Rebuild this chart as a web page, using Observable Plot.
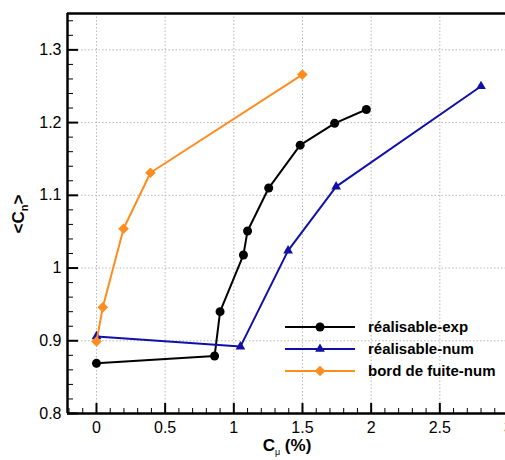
<!DOCTYPE html>
<html><head><meta charset="utf-8">
<script src="https://cdn.jsdelivr.net/npm/d3@7"></script>
<script src="https://cdn.jsdelivr.net/npm/@observablehq/plot@0.6"></script>
<style>
html,body{margin:0;padding:0;overflow:hidden;background:#fff;}
#wrap{position:relative;width:505px;height:460px;overflow:hidden;}
#wrap svg{max-width:none !important;}
</style></head><body><div id="wrap"></div>
<script>
// ---- data ----
const seriesNames = ["réalisable-exp", "réalisable-num", "bord de fuite-num"];
const seriesColors = ["#000000", "#1010a8", "#ff8c1f"];
const expCmu = [0, 0.86, 0.90, 1.07, 1.10, 1.254, 1.483, 1.734, 1.965];
const expCn  = [0.869, 0.879, 0.940, 1.018, 1.051, 1.110, 1.169, 1.199, 1.218];
const numCmu = [0, 1.048, 1.395, 1.745, 2.80];
const numCn  = [0.906, 0.892, 1.024, 1.112, 1.250];
const bfCmu  = [0, 0.046, 0.197, 0.393, 1.499];
const bfCn   = [0.899, 0.946, 1.054, 1.131, 1.266];
const xTicks = [0, 0.5, 1, 1.5, 2, 2.5, 3];
const xTickLabels = ["0", "0.5", "1", "1.5", "2", "2.5", "3"];
const yTicks = [0.8, 0.9, 1, 1.1, 1.2, 1.3];
const yTickLabels = ["0.8", "0.9", "1", "1.1", "1.2", "1.3"];

// ---- layout ----
const W = 510, H = 460;
const mL = 67, mR = 2, mT = 13, mB = 47;
const innerW = W - mL - mR, innerH = H - mT - mB;
const xDomain = [-0.211, 3.0], yDomain = [0.8, 1.35];
const font = "'Liberation Sans', Arial, Helvetica, sans-serif";

const exp = expCmu.map((x, i) => ({x, y: expCn[i]}));
const num = numCmu.map((x, i) => ({x, y: numCn[i]}));
const bf  = bfCmu.map((x, i) => ({x, y: bfCn[i]}));

const xMinor = d3.range(-2, 31).map(i => i / 10).filter(v => v >= xDomain[0] && v <= xDomain[1] && Math.abs(v * 2 - Math.round(v * 2)) > 1e-6);
const yMinor = d3.range(40, 68).map(i => i / 50).filter(v => Math.abs(v * 10 - Math.round(v * 10)) > 1e-6);

const gridStyle = {stroke: "#b8b8b8", strokeOpacity: 1, strokeWidth: 1, strokeDasharray: "1.5,2"};

const plot = Plot.plot({
  width: W, height: H,
  marginLeft: mL, marginRight: mR, marginTop: mT, marginBottom: mB,
  style: {fontFamily: font, fontSize: "16px", color: "#000", background: "#fff", overflow: "visible", maxWidth: "none"},
  x: {domain: xDomain},
  y: {domain: yDomain},
  marks: [
    Plot.gridX(xTicks.filter(v => v >= 0 && v < xDomain[1]), gridStyle),
    Plot.gridY(yTicks.filter(v => v > yDomain[0]), gridStyle),
    // tick marks pointing inward
    Plot.tickX(xMinor, {x: d => d, insetTop: innerH - 5, stroke: "#000", strokeWidth: 1}),
    Plot.tickX(xTicks, {x: d => d, insetTop: innerH - 10, stroke: "#000", strokeWidth: 2}),
    Plot.tickY(yMinor, {y: d => d, insetRight: innerW - 6, stroke: "#000", strokeWidth: 1}),
    Plot.tickY(yTicks, {y: d => d, insetRight: innerW - 11, stroke: "#000", strokeWidth: 2}),
    // frame
    Plot.ruleX([xDomain[0]], {stroke: "#000", strokeWidth: 2.5}),
    Plot.ruleY([yDomain[0], yDomain[1]], {stroke: "#000", strokeWidth: 2.5}),
    Plot.axisX(xTicks, {tickSize: 0, tickPadding: 8, label: null, fontSize: 16,
      tickFormat: d => xTickLabels[xTicks.indexOf(d)]}),
    Plot.axisY(yTicks, {tickSize: 0, tickPadding: 6, label: null, fontSize: 16,
      tickFormat: d => yTickLabels[yTicks.indexOf(d)]}),
    // series
    Plot.line(exp, {x: "x", y: "y", stroke: seriesColors[0], strokeWidth: 2}),
    Plot.dot(exp, {x: "x", y: "y", r: 4.5, fill: seriesColors[0], stroke: "none", symbol: "circle"}),
    Plot.line(num, {x: "x", y: "y", stroke: seriesColors[1], strokeWidth: 2}),
    Plot.dot(num, {x: "x", y: "y", r: 3.6, fill: seriesColors[1], stroke: "none", symbol: "triangle"}),
    Plot.line(bf, {x: "x", y: "y", stroke: seriesColors[2], strokeWidth: 2}),
    Plot.dot(bf, {x: "x", y: "y", r: 4.8, fill: seriesColors[2], stroke: "none", symbol: "diamond2"})
  ]
});

document.getElementById("wrap").appendChild(plot);
const svg = d3.select(plot);

// y-axis label <C_n>
const yl = svg.append("text")
  .attr("transform", "translate(24,214) rotate(-90)")
  .attr("text-anchor", "middle")
  .attr("font-family", font).attr("font-weight", "bold").attr("font-size", 17).attr("fill", "#000");
yl.append("tspan").text("<C");
yl.append("tspan").attr("dy", 4).attr("font-size", 11).text("n");
yl.append("tspan").attr("dy", -4).text(">");

// x-axis label C_mu (%)
const xl = svg.append("text")
  .attr("x", 287).attr("y", 451)
  .attr("text-anchor", "middle")
  .attr("font-family", font).attr("font-weight", "bold").attr("font-size", 17).attr("fill", "#000");
xl.append("tspan").text("C");
xl.append("tspan").attr("dy", 4).attr("font-size", 9).attr("font-weight", "normal").text("μ");
xl.append("tspan").attr("dy", -4).text(" (%)");

// legend
const symbols = [d3.symbolCircle, d3.symbolTriangle, d3.symbolDiamond2];
const sizes = [Math.PI * 4.5 * 4.5, Math.PI * 3.6 * 3.6, Math.PI * 4.8 * 4.8];
const lg = svg.append("g").attr("text-anchor", "start");
seriesNames.forEach((name, i) => {
  const yy = 327 + i * 22;
  lg.append("line").attr("x1", 285).attr("x2", 355).attr("y1", yy).attr("y2", yy)
    .attr("stroke", seriesColors[i]).attr("stroke-width", 2);
  lg.append("path").attr("d", d3.symbol(symbols[i], sizes[i])())
    .attr("transform", `translate(320,${yy})`).attr("fill", seriesColors[i]);
  lg.append("text").attr("x", 368).attr("y", yy).attr("dy", "0.35em")
    .attr("text-anchor", "start")
    .attr("font-family", font).attr("font-weight", "bold").attr("font-size", 15)
    .attr("fill", "#000").text(name);
});
</script>
</body></html>
